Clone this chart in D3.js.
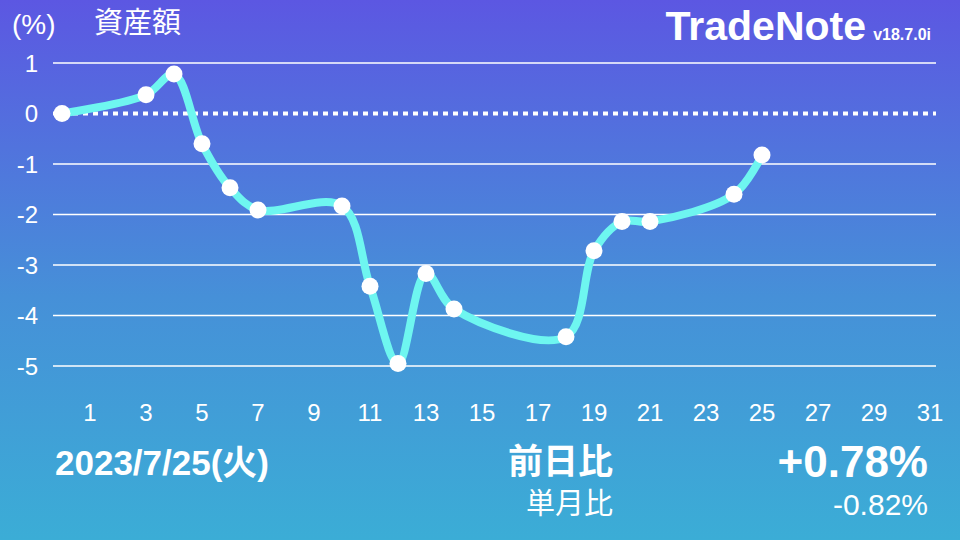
<!DOCTYPE html>
<html><head><meta charset="utf-8">
<script src="https://cdn.jsdelivr.net/npm/d3@7"></script>
<style>
html,body{margin:0;padding:0;}
svg{display:block;font-family:"Liberation Sans","Noto Sans CJK JP",sans-serif;}
</style></head>
<body>
<svg id="c" width="960" height="540"></svg>
<script>
const days = [0, 3, 4, 5, 6, 7, 10, 11, 12, 13, 14, 18, 19, 20, 21, 24, 25];
const values = [0, 0.37, 0.78, -0.6, -1.47, -1.91, -1.83, -3.42, -4.95, -3.17, -3.87, -4.42, -2.72, -2.14, -2.14, -1.6, -0.82];
const yTicks = [1, 0, -1, -2, -3, -4, -5];
const xTicks = [1, 3, 5, 7, 9, 11, 13, 15, 17, 19, 21, 23, 25, 27, 29, 31];
const titleUnit = "(%)";
const titleName = "資産額";
const brand = "TradeNote";
const version = "v18.7.0i";
const dateLabel = "2023/7/25(火)";
const dayLabel = "前日比";
const monthLabel = "単月比";
const dayChange = "+0.78%";
const monthChange = "-0.82%";

const svg = d3.select("#c");
const defs = svg.append("defs");
const g = defs.append("linearGradient").attr("id","bg").attr("x1",0).attr("y1",0).attr("x2",0).attr("y2",1);
g.append("stop").attr("offset","0%").attr("stop-color","#5C57E2");
g.append("stop").attr("offset","55%").attr("stop-color","#4690D8");
g.append("stop").attr("offset","100%").attr("stop-color","#3BADD6");
svg.append("rect").attr("width",960).attr("height",540).attr("fill","url(#bg)");

const x = d3.scaleLinear().domain([0, 31]).range([62, 930]);
const y = d3.scaleLinear().domain([-5, 1]).range([366, 63]);

// grid
svg.append("g").selectAll("line").data(yTicks.filter(d=>d!==0)).join("line")
  .attr("x1",53).attr("x2",936).attr("y1",d=>y(d)).attr("y2",d=>y(d))
  .attr("stroke","#fff").attr("stroke-width",1.6);
svg.append("line").attr("x1",53).attr("x2",936).attr("y1",y(0)).attr("y2",y(0))
  .attr("stroke","#fff").attr("stroke-width",4).attr("stroke-dasharray","5,5");

// y labels
svg.append("g").selectAll("text").data(yTicks).join("text")
  .attr("x",38).attr("y",d=>y(d)).attr("dy","0.36em").attr("text-anchor","end")
  .attr("fill","#fff").attr("font-size",24).text(d=>d);

// x labels
svg.append("g").selectAll("text").data(xTicks).join("text")
  .attr("x",d=>x(d)).attr("y",421).attr("text-anchor","middle")
  .attr("fill","#fff").attr("font-size",24).text(d=>d);

// line
const pts = days.map((d,i)=>[d, values[i]]);
const line = d3.line().x(d=>x(d[0])).y(d=>y(d[1])).curve(d3.curveCatmullRom.alpha(0.5));
svg.append("path").attr("d",line(pts)).attr("fill","none")
  .attr("stroke","#6EF6F0").attr("stroke-width",8).attr("stroke-linecap","round").attr("stroke-linejoin","round");
svg.append("g").selectAll("circle").data(pts).join("circle")
  .attr("cx",d=>x(d[0])).attr("cy",d=>y(d[1])).attr("r",8.5).attr("fill","#fff");

// titles
svg.append("text").attr("x",12).attr("y",34).attr("fill","#fff").attr("font-size",28).text(titleUnit);
svg.append("text").attr("x",94).attr("y",33).attr("fill","#fff").attr("font-size",29)
  .attr("font-family","Noto Sans CJK JP").text(titleName);
svg.append("text").attr("x",866).attr("y",40).attr("text-anchor","end").attr("fill","#fff")
  .attr("font-size",41).attr("font-weight","bold").text(brand);
svg.append("text").attr("x",931).attr("y",40).attr("text-anchor","end").attr("fill","#fff")
  .attr("font-size",16).attr("font-weight","bold").text(version);

// bottom
svg.append("text").attr("x",55).attr("y",475).attr("fill","#fff").attr("font-size",35)
  .attr("font-weight","bold").text(dateLabel);
svg.append("text").attr("x",613).attr("y",474).attr("text-anchor","end").attr("fill","#fff")
  .attr("font-size",35).attr("font-weight","bold").attr("font-family","Noto Sans CJK JP").text(dayLabel);
svg.append("text").attr("x",613).attr("y",514).attr("text-anchor","end").attr("fill","#fff")
  .attr("font-size",29).attr("font-family","Noto Sans CJK JP").text(monthLabel);
svg.append("text").attr("x",928).attr("y",477).attr("text-anchor","end").attr("fill","#fff")
  .attr("font-size",44).attr("font-weight","bold").text(dayChange);
svg.append("text").attr("x",928).attr("y",515).attr("text-anchor","end").attr("fill","#fff")
  .attr("font-size",30).text(monthChange);
</script>
</body></html>
